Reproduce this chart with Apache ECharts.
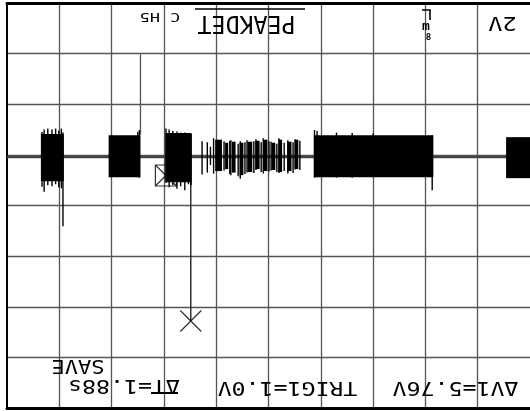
<!DOCTYPE html>
<html><head><meta charset="utf-8">
<script src="https://cdn.jsdelivr.net/npm/echarts@6/dist/echarts.min.js"></script>
<style>html,body{margin:0;padding:0;background:#fff}#c{width:530px;height:411px}</style>
</head><body><div id="c"></div>
<script>
// Screen coordinates in divisions: x 0..10, y -4..4 (image as photographed, rotated 180°)
const xTicks = [0,1,2,3,4,5,6,7,8,9,10];
const yTicks = [-4,-3,-2,-1,0,1,2,3,4];

// dense bursts: [xStart, xEnd, top, bottom]
const bursts = [
  [0.648, 1.086, 1.41, 0.48],
  [1.943, 2.552, 1.39, 0.56],
  [3.029, 3.524, 1.43, 0.46],
  [3.98, 4.11, 1.30, 0.68],
  [4.17, 4.23, 1.24, 0.72],
  [4.30, 4.37, 1.26, 0.65],
  [4.45, 4.52, 1.24, 0.60],
  [4.60, 4.69, 1.26, 0.66],
  [4.75, 4.83, 1.28, 0.72],
  [4.91, 4.98, 1.30, 0.68],
  [5.06, 5.13, 1.24, 0.70],
  [5.19, 5.26, 1.30, 0.66],
  [5.36, 5.44, 1.26, 0.68],
  [5.50, 5.57, 1.30, 0.72],
  [5.867, 8.152, 1.39, 0.56],
  [9.543, 10.0, 1.35, 0.54]
];

// single spikes: [x, top, bottom]
const spikes = [
  [0.67, 1.45, 0.37], [0.71, 1.50, 0.27], [0.78, 1.52, 0.40], [0.86, 1.50, 0.38],
  [0.93, 1.52, 0.42], [0.99, 1.48, 0.36], [1.04, 1.52, 0.34], [1.07, 1.44, -0.41],
  [2.50, 1.45, 0.56], [2.53, 1.49, 0.55],
  [3.04, 1.52, 0.45], [3.10, 1.50, 0.36], [3.17, 1.47, 0.40], [3.25, 1.46, 0.33],
  [3.32, 1.44, 0.38], [3.40, 1.44, 0.30], [3.47, 1.42, 0.42], [3.52, 1.42, 0.40],
  [3.73, 1.27, 0.61], [3.83, 1.25, 0.65], [3.89, 1.16, 0.80], [3.95, 1.33, 0.63],
  [4.15, 1.27, 0.69], [4.26, 1.28, 0.62], [4.28, 1.29, 0.60], [4.42, 1.22, 0.58],
  [4.46, 1.27, 0.53], [4.55, 1.25, 0.62], [4.59, 1.29, 0.65], [4.72, 1.27, 0.64],
  [4.76, 1.31, 0.70], [4.86, 1.25, 0.66], [4.90, 1.33, 0.63], [5.01, 1.27, 0.67],
  [5.05, 1.26, 0.69], [5.16, 1.22, 0.66], [5.20, 1.33, 0.64], [5.30, 1.24, 0.68],
  [5.37, 1.29, 0.63], [5.47, 1.25, 0.64], [5.51, 1.31, 0.71], [5.60, 1.28, 0.70],
  [5.88, 1.49, 0.55], [5.93, 1.47, 0.56], [6.30, 1.44, 0.55], [6.60, 1.43, 0.55],
  [7.00, 1.42, 0.56], [8.13, 1.39, 0.30]
];

const baseline = [[0, 0.958], [10, 0.958]];
const cursorA = [[2.552, 2.99], [2.552, 1.40]];
const cursorB = [[3.514, 1.40], [3.514, -2.28]];
const markerBox = [[3.038, 0.593]];
const markerX = [[3.514, -2.28]];

// labels (shown rotated 180°, as on the photographed screen)
const txtMode = 'PEAKDET';
const txtChan = 'C H5';
const txtScale = '2V';
const txtDT = 'ΔT=1.88s';
const txtSave = 'SAVE';
const txtTrig = 'TRIG1=1.0V';
const txtDV = 'ΔV1=5.76V';

const FONT = '"DejaVu Sans Mono", "Liberation Mono", monospace';
function rtext(t, cx, cy, size, sx, sy) {
  return {type:'text', x:cx, y:cy, rotation:Math.PI, scaleX:sx, scaleY:sy||1, z:100,
    style:{text:t, fill:'#000', fontSize:size, fontFamily:FONT, align:'center', verticalAlign:'middle'}};
}

const chart = echarts.init(document.getElementById('c'), null, {renderer:'canvas'});
const splitStyle = {color:'#555', width:1.3};
chart.setOption({
  animation:false,
  backgroundColor:'#fff',
  grid:{left:7, top:3, width:525, height:405},
  xAxis:[
    {type:'value', min:xTicks[0], max:xTicks[xTicks.length-1], interval:1, position:'bottom',
     axisLine:{show:true, onZero:false, lineStyle:{color:'#000', width:3}},
     axisTick:{show:false}, axisLabel:{show:false},
     splitLine:{show:true, showMinLine:false, showMaxLine:false, lineStyle:splitStyle}},
    {type:'value', min:xTicks[0], max:xTicks[xTicks.length-1], interval:1, position:'top',
     axisLine:{show:true, onZero:false, lineStyle:{color:'#000', width:3}},
     axisTick:{show:false}, axisLabel:{show:false}, splitLine:{show:false}}
  ],
  yAxis:{type:'value', min:yTicks[0], max:yTicks[yTicks.length-1], interval:1,
     axisLine:{show:true, onZero:false, lineStyle:{color:'#000', width:2}},
     axisTick:{show:false}, axisLabel:{show:false},
     splitLine:{show:true, showMinLine:false, showMaxLine:false, lineStyle:splitStyle}},
  series:[
    {type:'line', data:baseline, symbol:'none', z:2, lineStyle:{color:'#444', width:2.5}},
    {type:'line', data:cursorA, symbol:'none', z:2, lineStyle:{color:'#555', width:1.3}},
    {type:'line', data:cursorB, symbol:'none', z:2, lineStyle:{color:'#111', width:1.3}},
    {type:'scatter', data:markerBox, z:2, symbol:'path://M0,0L20,0L20,20L0,20ZM0,0L20,20M20,0L0,20',
     symbolSize:21, itemStyle:{color:'transparent', borderColor:'#000', borderWidth:1.2}},
    {type:'scatter', data:markerX, z:2, symbol:'path://M0,0L20,20M20,0L0,20',
     symbolSize:21, itemStyle:{color:'transparent', borderColor:'#000', borderWidth:1.3}},
    {type:'custom', data:bursts, z:5, encode:{x:[0,1], y:[2,3]},
     renderItem:function(params, api){
       const p0 = api.coord([api.value(0), api.value(2)]);
       const p1 = api.coord([api.value(1), api.value(3)]);
       return {type:'rect', shape:{x:p0[0], y:p0[1], width:p1[0]-p0[0], height:p1[1]-p0[1]},
               style:{fill:'#000'}};
     }},
    {type:'custom', data:spikes, z:5, encode:{x:0, y:[1,2]},
     renderItem:function(params, api){
       const p0 = api.coord([api.value(0), api.value(1)]);
       const p1 = api.coord([api.value(0), api.value(2)]);
       return {type:'line', shape:{x1:p0[0], y1:p0[1], x2:p1[0], y2:p1[1]},
               style:{stroke:'#000', lineWidth:1.4}};
     }}
  ],
  graphic:[
    rtext(txtMode, 246.5, 22.5, 24, 0.97),
    {type:'line', shape:{x1:195, y1:9, x2:305, y2:9}, style:{stroke:'#000', lineWidth:1.5}, z:100},
    rtext(txtChan, 160, 16.5, 12.5, 1.35),
    rtext(txtScale, 502.5, 21.5, 19, 1.25),
    {type:'polyline', shape:{points:[[422,10],[430,10],[430,20]]}, style:{stroke:'#000', lineWidth:1.6, fill:null}, z:100},
    {type:'text', x:426, y:27, z:100, style:{text:'m', fill:'#000', fontSize:13, fontWeight:'bold', fontFamily:FONT, align:'center', verticalAlign:'middle'}},
    {type:'text', x:428.5, y:38, z:100, style:{text:'8', fill:'#000', fontSize:9, fontWeight:'bold', fontFamily:FONT, align:'center', verticalAlign:'middle'}},
    rtext(txtSave, 78, 365.5, 20, 1.1),
    rtext(txtDT, 124, 385.5, 20, 1.16),
    {type:'line', shape:{x1:151, y1:393, x2:178, y2:393}, style:{stroke:'#000', lineWidth:2}, z:100},
    rtext(txtTrig, 287.5, 387, 20, 1.16),
    rtext(txtDV, 455.5, 387, 20, 1.16)
  ]
});
</script>
</body></html>
